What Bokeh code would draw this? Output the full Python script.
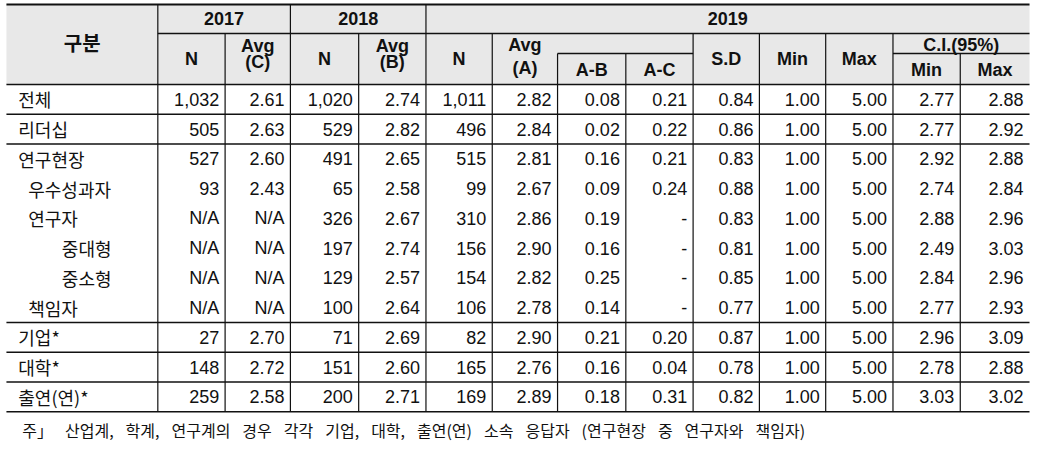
from bokeh.plotting import figure
from bokeh.models import Range1d
from bokeh.core.properties import value
from bokeh.embed import file_html
from bokeh.resources import INLINE

# ---------------- data ----------------
labels = ["전체", "리더십", "연구현장", "우수성과자", "연구자", "중대형", "중소형", "책임자", "기업*", "대학*", "출연(연)*"]
levels = [0, 0, 0, 1, 1, 2, 2, 1, 0, 0, 0]
n_2017 = ["1,032", "505", "527", "93", "N/A", "N/A", "N/A", "N/A", "27", "148", "259"]
avg_2017 = ["2.61", "2.63", "2.60", "2.43", "N/A", "N/A", "N/A", "N/A", "2.70", "2.72", "2.58"]
n_2018 = ["1,020", "529", "491", "65", "326", "197", "129", "100", "71", "151", "200"]
avg_2018 = [2.74, 2.82, 2.65, 2.58, 2.67, 2.74, 2.57, 2.64, 2.69, 2.60, 2.71]
n_2019 = ["1,011", "496", "515", "99", "310", "156", "154", "106", "82", "165", "169"]
avg_2019 = [2.82, 2.84, 2.81, 2.67, 2.86, 2.90, 2.82, 2.78, 2.90, 2.76, 2.89]
a_minus_b = [0.08, 0.02, 0.16, 0.09, 0.19, 0.16, 0.25, 0.14, 0.21, 0.16, 0.18]
a_minus_c = [0.21, 0.22, 0.21, 0.24, None, None, None, None, 0.20, 0.04, 0.31]
sd_2019 = [0.84, 0.86, 0.83, 0.88, 0.83, 0.81, 0.85, 0.77, 0.87, 0.78, 0.82]
min_2019 = [1.00] * 11
max_2019 = [5.00] * 11
ci_min = [2.77, 2.77, 2.92, 2.74, 2.88, 2.49, 2.84, 2.77, 2.96, 2.78, 3.03]
ci_max = [2.88, 2.92, 2.88, 2.84, 2.96, 3.03, 2.96, 2.93, 3.09, 2.88, 3.02]
years = ["2017", "2018", "2019"]
sub_headers = ["N", "Avg\n(C)", "N", "Avg\n(B)", "N"]
footnote = "주」 산업계, 학계, 연구계의 경우 각각 기업, 대학, 출연(연) 소속 응답자 (연구현장 중 연구자와 책임자)"


def fmt(v):
    if v is None:
        return "-"
    if isinstance(v, str):
        return v
    return f"{v:.2f}"


columns = [n_2017, avg_2017, n_2018, avg_2018, n_2019, avg_2019, a_minus_b, a_minus_c,
           sd_2019, min_2019, max_2019, ci_min, ci_max]

# ---------------- layout (pixel grid of the page) ----------------
E = [6, 159, 227, 293, 362, 430, 497, 563, 632, 700, 767, 834, 902, 970, 1040]
Y_TOP, Y_H1, Y_HM, Y_HB = 4, 33, 53, 84
ROW_H = 29.75
n_rows = len(labels)
row_edges = [Y_HB + i * ROW_H for i in range(n_rows + 1)]
Y_END = row_edges[-1]

p = figure(width=1031, height=444, output_backend="svg", toolbar_location=None,
           x_range=Range1d(0, 1042), y_range=Range1d(444, 0),
           x_axis_type=None, y_axis_type=None, min_border=0)
p.outline_line_color = None
p.grid.visible = False
p.background_fill_color = "white"
p.border_fill_color = "white"

# header background
p.quad(left=[E[0]], right=[E[-1]], top=[Y_TOP], bottom=[Y_HB], fill_color="#e8e8e8", line_color=None)

LC = "#111111"
# horizontal lines
hx0, hx1, hy = [], [], []
for y in [Y_HB] + [row_edges[i] for i in (1, 2, 8, 9, 10, 11)]:
    hx0.append(E[0]); hx1.append(E[-1]); hy.append(y)
hx0 += [E[1], E[7], E[12]]
hx1 += [E[-1], E[9], E[14]]
hy += [Y_H1, Y_HM, Y_HM]
p.segment(x0=hx0, y0=hy, x1=hx1, y1=hy, line_color=LC, line_width=1.4)
p.segment(x0=[E[0]], y0=[Y_TOP], x1=[E[-1]], y1=[Y_TOP], line_color=LC, line_width=2)

# vertical lines
vx, vy0 = [], []
for i in range(1, 14):
    if i in (1, 3, 5):
        top = Y_TOP
    elif i in (7, 8, 13):
        top = Y_HM
    else:
        top = Y_H1
    vx.append(E[i]); vy0.append(top)
p.segment(x0=vx, y0=vy0, x1=vx, y1=[Y_END] * len(vx), line_color=LC, line_width=1.2)

LAT = value("Liberation Sans")
KR = value("Noto Sans CJK KR")
FS = value("18px")

# header texts
p.text(x=[(E[0] + E[1]) / 2], y=[42], text=["구분"], text_align="center", text_baseline="middle",
       text_font=KR, text_font_size=value("20px"), text_font_style="bold", text_color="#111111")
p.text(x=[(E[1] + E[3]) / 2, (E[3] + E[5]) / 2, (E[5] + E[14]) / 2], y=[18, 18, 18], text=years,
       text_align="center", text_baseline="middle", text_font=LAT, text_font_size=FS,
       text_font_style="bold", text_color="#111111")

hx, hy_, ht = [], [], []
for i, s in enumerate(sub_headers):
    cx = (E[1 + i] + E[2 + i]) / 2
    parts = s.split("\n")
    if len(parts) == 1:
        hx.append(cx); hy_.append(58); ht.append(s)
    else:
        hx += [cx, cx]; hy_ += [45, 61]; ht += parts
# 2019 Avg (A)
cx = (E[6] + E[7]) / 2
hx += [cx, cx]; hy_ += [44, 67]; ht += ["Avg", "(A)"]
for i, s in [(7, "A-B"), (8, "A-C"), (12, "Min"), (13, "Max")]:
    hx.append((E[i] + E[i + 1]) / 2); hy_.append(69); ht.append(s)
for i, s in [(9, "S.D"), (10, "Min"), (11, "Max")]:
    hx.append((E[i] + E[i + 1]) / 2); hy_.append(58); ht.append(s)
hx.append((E[12] + E[14]) / 2); hy_.append(44); ht.append("C.I.(95%)")
p.text(x=hx, y=hy_, text=ht, text_align="center", text_baseline="middle", text_font=LAT,
       text_font_size=FS, text_font_style="bold", text_color="#111111")

# row labels
indent_x = [18, 28, 62]
centers = [(row_edges[i] + row_edges[i + 1]) / 2 for i in range(n_rows)]
p.text(x=[indent_x[l] for l in levels], y=centers, text=labels, text_align="left",
       text_baseline="middle", text_font=KR, text_font_size=FS, text_color="#111111")

# values
vx_, vy_, vt = [], [], []
for ci, col in enumerate(columns):
    right = E[ci + 2] - 6
    for ri, v in enumerate(col):
        vx_.append(right); vy_.append(centers[ri]); vt.append(fmt(v))
p.text(x=vx_, y=vy_, text=vt, text_align="right", text_baseline="middle", text_font=LAT,
       text_font_size=FS, text_color="#111111")

# footnote (wider spaces to mimic the original's half-width spacing)
p.text(x=[22], y=[429], text=[footnote.replace(" ", "\u2002\u2005")], text_align="left",
       text_baseline="middle", text_font=KR, text_font_size=value("16px"), text_color="#111111")

open("out.html", "w").write(file_html(p, INLINE, title="table"))
